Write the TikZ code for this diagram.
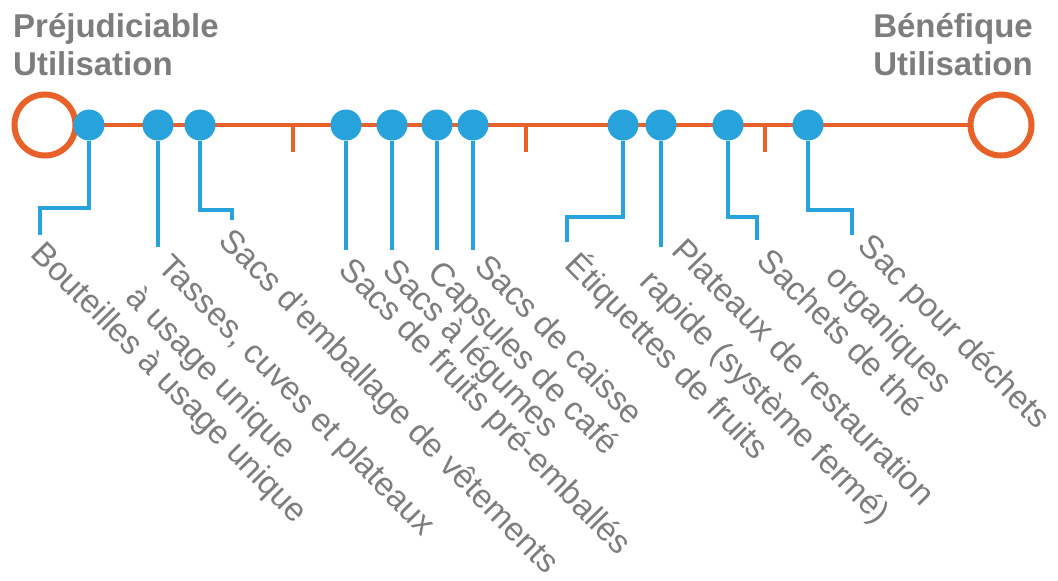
\documentclass[tikz,border=0pt]{standalone}
\usepackage{fontspec}
\setmainfont{Liberation Sans}
\usetikzlibrary{positioning}
\definecolor{lineorange}{RGB}{232,97,40}
\definecolor{dotblue}{RGB}{40,162,219}
\definecolor{textgray}{RGB}{125,125,125}

\begin{document}
\begin{tikzpicture}[
    x=1pt, y=-1pt,
    % Style definitions
    endring/.style={circle, draw=lineorange, line width=6pt, minimum size=61pt,
                    inner sep=0pt, fill=white},
    dot/.style={circle, fill=dotblue, minimum size=31pt, inner sep=0pt},
    axis/.style={draw=lineorange, line width=4.5pt},
    tick/.style={draw=lineorange, line width=4.5pt},
    stem/.style={draw=dotblue, line width=4pt},
    heading/.style={inner sep=0pt, text=textgray, font=\fontsize{33}{38}\selectfont\bfseries},
    item/.style={rotate=-45.5, anchor=north west, align=left, inner sep=0pt,
                 text=textgray, font=\fontsize{33}{45}\selectfont},
]
\useasboundingbox (0,0) rectangle (1058,581);

% Headings
\node[heading, anchor=north west, align=left] (harm) at (13,13) {Préjudiciable\\Utilisation};
\node[heading, anchor=north east, align=right] (good) at (1033,13) {Bénéfique\\Utilisation};

% Axis with end rings
\node[endring] (left) at (45,125) {};
\node[endring] (right) at (1001,125) {};
\draw[axis] (left) -- (right);
\foreach \x in {293,526,765}
    \draw[tick] (\x,123) -- (\x,152);

% Dots on the axis
\foreach \x [count=\i] in {89,158,200,346,392,437,473,623,661,728,808}
    \node[dot] (d\i) at (\x,125) {};

% Stem ends
\coordinate (e1) at (40,235);
\coordinate (e2) at (158,247);
\coordinate (e3) at (232,220);
\coordinate (e4) at (346,250);
\coordinate (e5) at (392,250);
\coordinate (e6) at (437,250);
\coordinate (e7) at (473,250);
\coordinate (e8) at (567,242);
\coordinate (e9) at (661,247);
\coordinate (e10) at (757,240);
\coordinate (e11) at (852,235);

% Stems
\draw[stem] (d1) -- (d1 |- 0,208) -| (e1);
\draw[stem] (d2) -- (e2);
\draw[stem] (d3) -- (d3 |- 0,210) -| (e3);
\draw[stem] (d4) -- (e4);
\draw[stem] (d5) -- (e5);
\draw[stem] (d6) -- (e6);
\draw[stem] (d7) -- (e7);
\draw[stem] (d8) -- (d8 |- 0,217) -| (e8);
\draw[stem] (d9) -- (e9);
\draw[stem] (d10) -- (d10 |- 0,217) -| (e10);
\draw[stem] (d11) -- (d11 |- 0,210) -| (e11);

% Labels
\node[item] (bottles) at (47,238) {Bouteilles à usage unique};
\node[item] (cups) at (174,251) {Tasses, cuves et plateaux\\à usage unique};
\node[item] (garment) at (235,225) {Sacs d'emballage de vêtements};
\node[item] (fruitbag) at (355,254) {Sacs de fruits pré-emballés};
\node[item] (vegbag) at (399,255) {Sacs à légumes};
\node[item] (capsule) at (444,257) {Capsules de café};
\node[item] (checkout) at (491,251) {Sacs de caisse};
\node[item] (sticker) at (584,246) {Étiquettes de fruits};
\node[item] (trays) at (688,235) {Plateaux de restauration\\rapide (système fermé)};
\node[item] (teabag) at (773,245) {Sachets de thé};
\node[item] (waste) at (874,230) {Sac pour déchets\\organiques};

\end{tikzpicture}
\end{document}
